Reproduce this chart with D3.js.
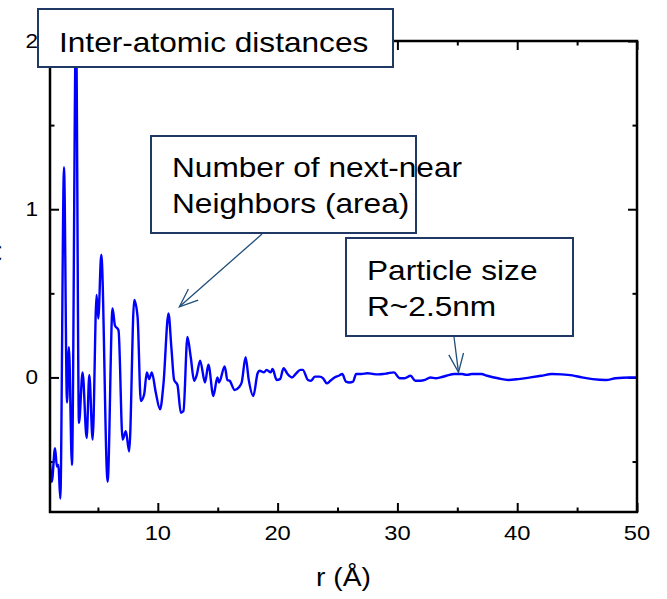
<!DOCTYPE html>
<html>
<head>
<meta charset="utf-8">
<script src="https://cdn.jsdelivr.net/npm/d3@7"></script>
<style>
  html, body { margin: 0; padding: 0; background: #fff; }
  svg { display: block; font-family: "Liberation Sans", Arial, sans-serif; }
</style>
</head>
<body>
<svg id="chart" width="667" height="599"></svg>
<script>
// ---- data ----
const rValues = [1.0, 1.15, 1.42, 1.58, 1.7, 1.86, 2.17, 2.42, 2.58, 2.83,
  3.17, 3.42, 3.72, 4.06, 4.28, 4.56, 4.89, 5.03, 5.28, 5.81,
  6.22, 6.42, 6.72, 7.06, 7.33, 7.61, 8.03, 8.31, 8.58, 8.86,
  9.08, 9.28, 9.5, 9.83, 10.19, 10.47, 10.89, 11.14, 11.36, 11.64,
  11.92, 12.14, 12.47, 12.75, 13.03, 13.25, 13.53, 13.94, 14.22, 14.64,
  14.97, 15.11, 15.58, 15.81, 16.0, 16.42, 16.75, 17.0, 17.33, 17.58,
  17.97, 18.33, 18.5, 18.86, 19.08, 19.42, 19.58, 19.92, 20.2, 20.5,
  20.83, 21.2, 21.5, 21.9, 22.1, 22.53, 22.8, 23.1, 23.5, 23.8,
  24.1, 24.4, 24.75, 25.1, 25.4, 25.7, 26.0, 26.3, 26.55, 27.0,
  27.5, 28.0, 28.4, 28.8, 29.2, 29.7, 30.2, 30.6, 31.1, 31.5,
  31.9, 32.3, 32.75, 33.2, 33.6, 34.1, 34.75, 35.4, 35.8, 36.2,
  37.0, 37.5, 38.4, 39.25, 40.1, 41.1, 42.0, 42.9, 43.7, 44.6,
  45.4, 46.3, 47.4, 48.2, 49.4, 50.0];
const gValues = [-0.50, -0.62, -0.42, -0.53, -0.52, -0.72, 1.25, -0.15, 0.18, -0.52,
  2.1, -0.27, 0.03, -0.36, 0.015, -0.37, 0.49, 0.35, 0.73, -0.62,
  0.41, 0.31, 0.28, -0.37, -0.32, -0.44, 0.46, 0.36, -0.14, -0.10,
  0.03, -0.01, 0.03, -0.09, -0.19, -0.04, 0.38, 0.17, -0.015, -0.045,
  -0.21, -0.20, 0.24, 0.12, -0.02, 0.015, 0.10, -0.03, 0.075, -0.11,
  0.0, -0.03, 0.065, -0.015, -0.02, -0.075, -0.06, -0.03, 0.12, -0.01,
  -0.11, 0.025, 0.04, 0.03, 0.045, 0.03, 0.05, -0.015, -0.01, 0.055,
  0.02, 0.0, 0.02, 0.045, 0.045, -0.015, -0.02, 0.005, 0.005, -0.005,
  -0.035, -0.02, 0.0, 0.01, 0.02, -0.025, -0.03, -0.025, 0.02, 0.02,
  0.025, 0.02, 0.018, 0.02, 0.025, 0.03, -0.005, -0.005, 0.01, -0.02,
  -0.02, -0.015, 0.0, -0.005, 0.0, 0.01, 0.02, 0.02, 0.015, 0.02,
  0.02, 0.01, -0.005, -0.015, -0.01, 0.0, 0.01, 0.02, 0.018, 0.012,
  0.0, -0.01, -0.015, -0.005, 0.0, 0.0];
const xMajorTicks = [10, 20, 30, 40, 50];
const xMinorTicks = [5, 15, 25, 35, 45];
const yMajorTicks = [0, 1, 2];
const yMinorTicks = [-0.5, 0.5, 1.5];
const xTitle = "r (Å)";
const yTitle = "G(r)";
const boxTitle = ["Inter-atomic distances"];
const boxNeighbors = ["Number of next-near", "Neighbors (area)"];
const boxSize = ["Particle size", "R~2.5nm"];
const neighborsPoint = [11.8, 0.42];
const sizePoint = [35.1, 0.03];

// ---- layout ----
const svg = d3.select("#chart");
const L = 50, R = 637, T = 41, B = 512;
const x = d3.scaleLinear().domain([1, 50]).range([L, R]);
const y = d3.scaleLinear().domain([-0.8, 2]).range([B, T]);
const SX = 1.13; // horizontal stretch of the original picture
const boxStroke = "#1f3864";
const arrowStroke = "#1f4e79";

function stext(parent, px, py, str, size, anchor) {
  const g = parent.append("g").attr("transform", `translate(${px},${py}) scale(${SX},1)`);
  g.append("text").attr("text-anchor", anchor || "start")
    .style("font-size", size + "px").attr("fill", "#000").text(str);
  return g;
}

// clip
svg.append("defs").append("clipPath").attr("id", "plotclip")
  .append("rect").attr("x", L).attr("y", T).attr("width", R - L).attr("height", B - T);

// ---- axes via d3 ----
function mkAxis(gen, scale, ticks, size, transform) {
  const g = svg.append("g").attr("transform", transform)
    .call(gen(scale).tickValues(ticks).tickSize(size).tickFormat(""));
  g.select(".domain").remove();
  g.selectAll(".tick line").attr("stroke", "#000").attr("stroke-width", 2);
  return g;
}
mkAxis(d3.axisBottom, x, xMajorTicks, -9, `translate(0,${B})`);
mkAxis(d3.axisBottom, x, xMinorTicks, -4.5, `translate(0,${B})`);
mkAxis(d3.axisTop, x, xMajorTicks, -9, `translate(0,${T})`);
mkAxis(d3.axisTop, x, xMinorTicks, -4.5, `translate(0,${T})`);
mkAxis(d3.axisLeft, y, yMajorTicks, -9, `translate(${L},0)`);
mkAxis(d3.axisLeft, y, yMinorTicks, -4.5, `translate(${L},0)`);
mkAxis(d3.axisRight, y, yMajorTicks, -9, `translate(${R},0)`);
mkAxis(d3.axisRight, y, yMinorTicks, -4.5, `translate(${R},0)`);

// tick labels
xMajorTicks.forEach(v => stext(svg, x(v), 540, String(v), 21, "middle"));
yMajorTicks.forEach(v => stext(svg, 38, y(v) + 7, String(v), 20, "end"));

// axis titles
stext(svg, (L + R) / 2, 586, xTitle, 25, "middle");
svg.append("text").attr("transform", `translate(-4,241) rotate(-90)`)
  .attr("text-anchor", "end").style("font-size", "24px").text(yTitle);

// ---- data line ----
const pts = rValues.map((r, i) => [r, gValues[i]]);
svg.append("path").datum(pts)
  .attr("clip-path", "url(#plotclip)")
  .attr("fill", "none").attr("stroke", "#0000ff").attr("stroke-width", 2.4)
  .attr("stroke-linejoin", "round")
  .attr("d", d3.line().x(d => x(d[0])).y(d => y(d[1])).curve(d3.curveMonotoneX));

// frame
svg.append("rect").attr("x", L).attr("y", T).attr("width", R - L).attr("height", B - T)
  .attr("fill", "none").attr("stroke", "#000").attr("stroke-width", 2.5);

// ---- annotations ----
function box(x0, y0, w, h, lines, firstBase) {
  svg.append("rect").attr("x", x0).attr("y", y0).attr("width", w).attr("height", h)
    .attr("fill", "#fff").attr("stroke", boxStroke).attr("stroke-width", 2);
  lines.forEach((s, i) => stext(svg, x0 + 21, y0 + firstBase + i * 36, s, 28, "start"));
}
function arrow(x1, y1, x2, y2) {
  const g = svg.append("g").attr("stroke", arrowStroke).attr("stroke-width", 1.3).attr("fill", "none");
  g.append("line").attr("x1", x1).attr("y1", y1).attr("x2", x2).attr("y2", y2);
  const a = Math.atan2(y1 - y2, x1 - x2), len = 20, sp = 0.38;
  g.append("path").attr("d",
    `M${x2 + len * Math.cos(a - sp)},${y2 + len * Math.sin(a - sp)}L${x2},${y2}L${x2 + len * Math.cos(a + sp)},${y2 + len * Math.sin(a + sp)}`);
}

box(38, 9, 355, 58, boxTitle, 43);
arrow(262, 234, x(neighborsPoint[0]), y(neighborsPoint[1]));
box(151, 136, 265, 97, boxNeighbors, 41);
arrow(454, 337, x(sizePoint[0]), y(sizePoint[1]));
box(346, 238, 227, 98, boxSize, 42);
</script>
</body>
</html>
